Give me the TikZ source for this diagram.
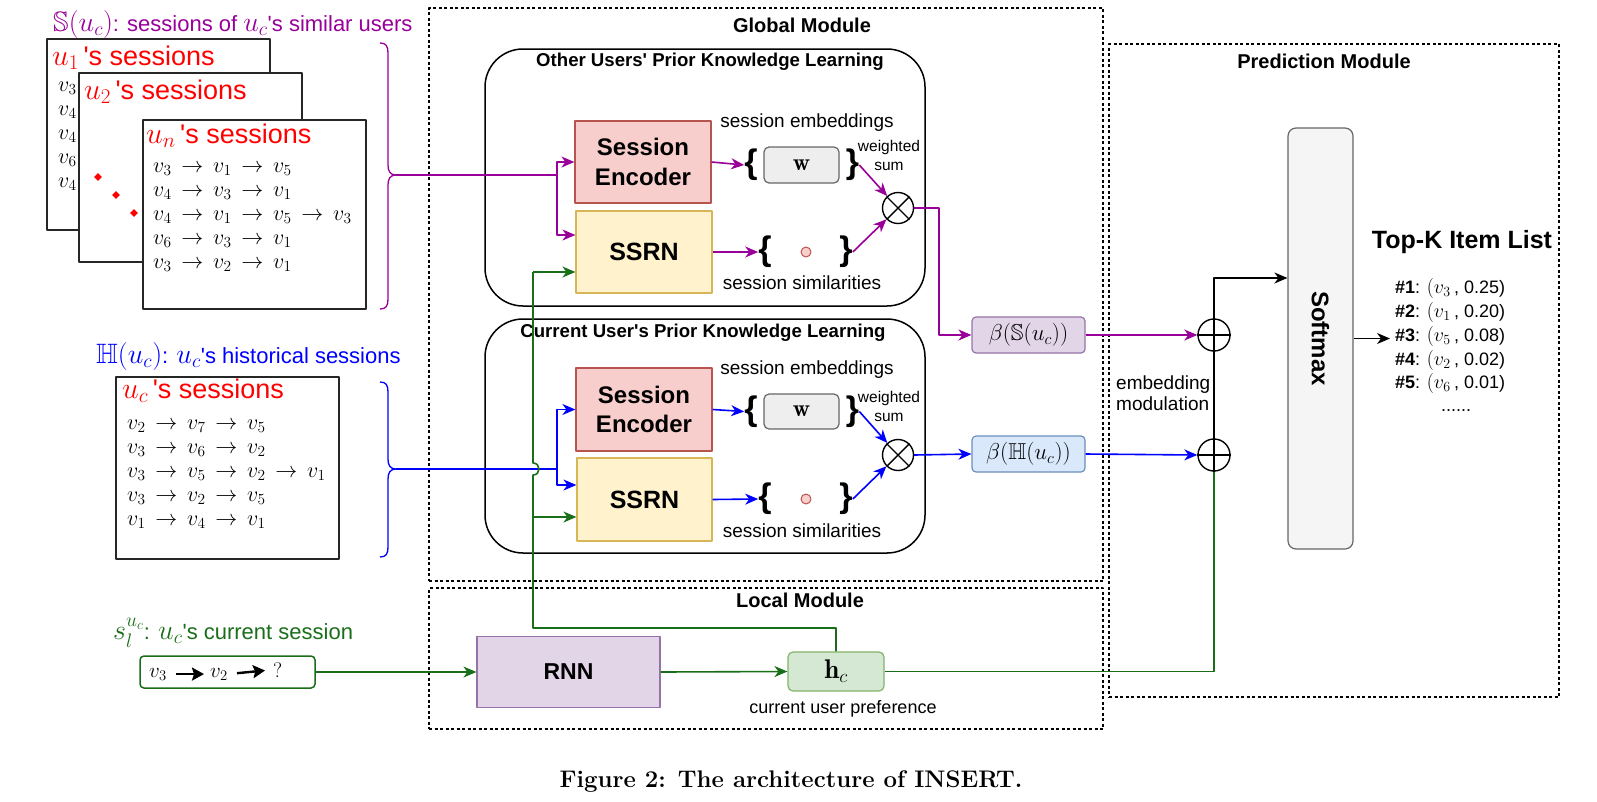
\RequirePackage{fix-cm}
\documentclass[tikz,border=0pt]{standalone}
\usepackage{amsmath,amssymb}
\usepackage{fontspec}
\setsansfont{Liberation Sans}
\usetikzlibrary{arrows.meta}
\definecolor{pur}{RGB}{153,0,153}
\definecolor{blu}{RGB}{0,0,255}
\definecolor{grn}{RGB}{25,110,25}
\definecolor{redt}{RGB}{255,0,0}
\definecolor{sefill}{HTML}{F8CECC}
\definecolor{sedraw}{HTML}{B85450}
\definecolor{ssfill}{HTML}{FFF2CC}
\definecolor{ssdraw}{HTML}{D6B656}
\definecolor{rnnfill}{HTML}{E1D5E7}
\definecolor{rnndraw}{HTML}{9673A6}
\definecolor{hfill}{HTML}{D5E8D4}
\definecolor{hdraw}{HTML}{82B366}
\definecolor{bhfill}{HTML}{DAE8FC}
\definecolor{bhdraw}{HTML}{6C8EBF}
\definecolor{gfill}{HTML}{F5F5F5}
\definecolor{wfill}{HTML}{EEEEEE}
\definecolor{gdraw}{HTML}{666666}
\newcommand{\bmth}[1]{{\fontsize{28}{28}\selectfont$#1$}}
\newcommand{\rmth}[1]{{\fontsize{30}{30}\selectfont$#1$}}
\newcommand{\imth}[1]{{\fontsize{20}{20}\selectfont$#1$}}
\newcommand{\sra}{\,\rightarrow\,}
\newcommand{\aps}{\textquotesingle}
\begin{document}
\begin{tikzpicture}[x=1pt,y=-1pt,line join=round,
  tip/.style={-{Stealth[length=13pt,width=11pt,inset=4pt]}},
  pl/.style={draw=pur,line width=1.6pt},
  bl/.style={draw=blu,line width=1.6pt},
  gl/.style={draw=grn,line width=1.6pt},
  kl/.style={draw=black,line width=1.5pt},
  modbox/.style={draw=black,dash pattern=on 3pt off 2.5pt,line width=1.2pt,inner sep=0},
  subbox/.style={draw=black,rounded corners=38pt,line width=1.5pt,inner sep=0},
  sessbox/.style={draw=black!85,fill=white,line width=2pt,inner sep=0},
  mtitle/.style={font=\sffamily\bfseries\fontsize{20}{20}\selectfont,inner sep=0},
  stitle/.style={font=\sffamily\bfseries\fontsize{18.6}{18.6}\selectfont,inner sep=0},
  sebox/.style={draw=sedraw,fill=sefill,line width=1.2pt,align=center,
    font=\sffamily\bfseries\fontsize{24}{29.5}\selectfont,inner sep=0},
  ssbox/.style={draw=ssdraw,fill=ssfill,line width=1.2pt,
    font=\sffamily\bfseries\fontsize{25}{25}\selectfont,inner sep=0},
  wbox/.style={draw=gdraw,fill=wfill,rounded corners=5pt,line width=1.2pt,
    font=\fontsize{24}{24}\selectfont,inner sep=0},
  brc/.style={font=\sffamily\bfseries\fontsize{34}{34}\selectfont,inner sep=0},
  simdot/.style={circle,draw=sedraw,fill=sefill,minimum size=10pt,inner sep=0,line width=1pt},
  opnode/.style={circle,draw=black,line width=1.4pt,minimum size=31pt,inner sep=0},
  lbl/.style={font=\sffamily\fontsize{19}{19}\selectfont,inner sep=0},
  wsum/.style={font=\sffamily\fontsize{15.5}{19}\selectfont,inner sep=0,align=center},
  row/.style={anchor=base west,inner sep=0,font=\fontsize{22}{22}\selectfont},
  rtitle/.style={anchor=base west,inner sep=0,text=redt,font=\sffamily\fontsize{27}{27}\selectfont},
  ctitle/.style={anchor=base west,inner sep=0,font=\sffamily\fontsize{22}{22}\selectfont},
  betabox/.style={rounded corners=4pt,line width=1.2pt,inner sep=0,font=\fontsize{23}{23}\selectfont,
    minimum width=113pt,minimum height=36pt},
  item/.style={anchor=base west,inner sep=0,font=\sffamily\fontsize{18}{18}\selectfont},
  dmd/.style={fill=redt,minimum size=5.5pt,inner sep=0,rotate=45},
  cstok/.style={anchor=base west,inner sep=0,font=\fontsize{21}{21}\selectfont},
  fat/.style={line width=2.4pt,-{Stealth[length=12pt,width=13pt,inset=2pt]}}
]
\useasboundingbox (0,0) rectangle (1597,801);

% ---------- module frames ----------
\node[modbox,minimum width=674pt,minimum height=573pt] (glob) at (766,294.5) {};
\node[modbox,minimum width=674pt,minimum height=141pt] (loc) at (766,658.5) {};
\node[modbox,minimum width=450pt,minimum height=653pt] (pred) at (1334,370.5) {};
\node[mtitle] (tglob) at (802,25) {Global Module};
\node[mtitle] (tloc) at (800,600) {Local Module};
\node[mtitle] (tpred) at (1324,61) {Prediction Module};

\node[subbox,minimum width=440pt,minimum height=257pt] (oth) at (705,177.5) {};
\node[subbox,minimum width=440pt,minimum height=234pt] (cur) at (705,436) {};
\node[stitle] (toth) at (710,62) {Other Users\aps\ Prior Knowledge Learning};
\node[stitle] (tcur) at (703,333) {Current User\aps s Prior Knowledge Learning};

% ---------- left: similar users' sessions ----------
\node[ctitle,text=pur] (tS) at (53,31) {\bmth{\mathbb{S}(u_c)}: sessions of \bmth{u_c}\aps s similar users};
\node[sessbox,minimum width=223pt,minimum height=191pt] (u1) at (158.5,134.5) {};
\node[rtitle] (u1t) at (52,65) {\rmth{u_1}\,\aps s sessions};
\node[row] (u1a) at (58,91) {$v_3$};
\node[row] (u1b) at (58,115) {$v_4$};
\node[row] (u1c) at (58,139) {$v_4$};
\node[row] (u1d) at (58,163) {$v_6$};
\node[row] (u1e) at (58,187) {$v_4$};
\node[sessbox,minimum width=223pt,minimum height=189pt] (u2) at (190.5,167.5) {};
\node[rtitle] (u2t) at (84,99) {\rmth{u_2}\,\aps s sessions};
\node[dmd] (dm1) at (98,177) {};
\node[dmd] (dm2) at (116,195) {};
\node[dmd] (dm3) at (134,213) {};
\node[sessbox,minimum width=223pt,minimum height=189pt] (un) at (254.5,214.5) {};
\node[rtitle] (unt) at (146,143) {\rmth{u_n}\,\aps s sessions};
\node[row] (una) at (153,172) {$v_3\sra v_1\sra v_5$};
\node[row] (unb) at (153,196) {$v_4\sra v_3\sra v_1$};
\node[row] (unc) at (153,220) {$v_4\sra v_1\sra v_5\sra v_3$};
\node[row] (und) at (153,244) {$v_6\sra v_3\sra v_1$};
\node[row] (une) at (153,268) {$v_3\sra v_2\sra v_1$};

\coordinate (bt1) at (396,175);
\draw[pl,line width=1.3pt] (380,43) .. controls (386,43) and (388,46) .. (388,53) -- (388,165)
  .. controls (388,171) and (390,175) .. (bt1) .. controls (390,175) and (388,179) .. (388,185)
  -- (388,299) .. controls (388,306) and (386,309) .. (380,309);

% ---------- left: historical sessions ----------
\node[ctitle,text=blu] (tH) at (96,363) {\bmth{\mathbb{H}(u_c)}: \bmth{u_c}\aps s historical sessions};
\node[sessbox,minimum width=223pt,minimum height=182pt] (uc) at (227.5,468) {};
\node[rtitle] (uct) at (122,398) {\rmth{u_c}\,\aps s sessions};
\node[row] (uca) at (127,429) {$v_2\sra v_7\sra v_5$};
\node[row] (ucb) at (127,453) {$v_3\sra v_6\sra v_2$};
\node[row] (ucc) at (127,477) {$v_3\sra v_5\sra v_2\sra v_1$};
\node[row] (ucd) at (127,501) {$v_3\sra v_2\sra v_5$};
\node[row] (uce) at (127,525) {$v_1\sra v_4\sra v_1$};

\coordinate (bt2) at (396,469);
\draw[bl,line width=1.3pt] (380,382) .. controls (386,382) and (388,385) .. (388,392) -- (388,459)
  .. controls (388,465) and (390,469) .. (bt2) .. controls (390,469) and (388,473) .. (388,479)
  -- (388,547) .. controls (388,554) and (386,557) .. (380,557);

% ---------- left: current session ----------
\node[ctitle,text=grn] (tC) at (113,639) {\bmth{s_l^{u_c}}: \bmth{u_c}\aps s current session};
\node[draw=grn,rounded corners=4pt,line width=1.5pt,minimum width=175pt,minimum height=32pt,inner sep=0] (cs) at (227.5,672) {};
\node[cstok] (t1) at (149,677) {$v_3$};
\node[cstok] (t2) at (210,677) {$v_2$};
\node[cstok] (t3) at (273,677) {$?$};
\draw[fat,shorten <=9pt,shorten >=6pt] (t1.east) -- (t2.west);
\draw[fat,shorten <=9pt,shorten >=8pt] (t2.east) -- (t3.west);

% ---------- other users' block ----------
\node[sebox,minimum width=136pt,minimum height=82pt] (se1) at (643,162) {Session\\Encoder};
\node[ssbox,minimum width=136pt,minimum height=82pt] (ss1) at (644,252) {SSRN};
\node[lbl] (emb1) at (807,123) {session embeddings};
\node[brc] (lb1) at (751,165) {\{};
\node[wbox,minimum width=75pt,minimum height=36pt] (w1) at (801.5,165) {$\mathbf{w}$};
\node[brc] (rb1) at (852.5,165) {\}};
\node[wsum] (ws1) at (889,155) {weighted\\sum};
\node[opnode] (ot1) at (898,208) {};
\draw[line width=1.4pt] (ot1.north west) -- (ot1.south east) (ot1.north east) -- (ot1.south west);
\node[brc] (lb2) at (765,252) {\{};
\node[simdot] (d1) at (806,252) {};
\node[brc] (rb2) at (846,252) {\}};
\node[lbl] (sim1) at (802,283) {session similarities};

% ---------- current user's block ----------
\node[sebox,minimum width=136pt,minimum height=83pt] (se2) at (644,409.5) {Session\\Encoder};
\node[ssbox,minimum width=135pt,minimum height=83pt] (ss2) at (644.5,499.5) {SSRN};
\node[lbl] (emb2) at (807,370) {session embeddings};
\node[brc] (lb3) at (751,411.5) {\{};
\node[wbox,minimum width=75pt,minimum height=35pt] (w2) at (801.5,411.5) {$\mathbf{w}$};
\node[brc] (rb3) at (852.5,411.5) {\}};
\node[wsum] (ws2) at (889,406) {weighted\\sum};
\node[opnode] (ot2) at (898,455) {};
\draw[line width=1.4pt] (ot2.north west) -- (ot2.south east) (ot2.north east) -- (ot2.south west);
\node[brc] (lb4) at (765,499) {\{};
\node[simdot] (d2) at (806,499) {};
\node[brc] (rb4) at (846,499) {\}};
\node[lbl] (sim2) at (802,531) {session similarities};

% ---------- local module ----------
\node[draw=rnndraw,fill=rnnfill,line width=1.2pt,minimum width=183pt,minimum height=71pt,inner sep=0,
  font=\sffamily\bfseries\fontsize{23}{23}\selectfont] (rnn) at (568.5,672) {RNN};
\node[draw=hdraw,fill=hfill,rounded corners=5pt,line width=1.2pt,minimum width=96pt,minimum height=39pt,
  inner sep=0,font=\fontsize{27}{27}\selectfont] (hc) at (836,671.5) {$\mathbf{h}_c$};
\node[font=\sffamily\fontsize{18}{18}\selectfont,inner sep=0] (pref) at (843,709) {current user preference};

% ---------- beta boxes, prediction ----------
\node[betabox,draw=rnndraw,fill=rnnfill] (bS) at (1028.5,335) {$\beta(\mathbb{S}(u_c))$};
\node[betabox,draw=bhdraw,fill=bhfill] (bH) at (1028.5,454) {$\beta(\mathbb{H}(u_c))$};
\node[opnode,minimum size=32pt] (op1) at (1214,335) {};
\node[opnode,minimum size=32pt] (op2) at (1214,455) {};
\draw[line width=1.4pt] (op1.west) -- (op1.east) (op2.west) -- (op2.east)
  (op1.north) -- (op1.south) (op2.north) -- (op2.south);
\node[font=\sffamily\fontsize{19}{21}\selectfont,inner sep=0,align=left,anchor=west] (emod) at (1116,393.5) {embedding\\modulation};
\node[draw=gdraw,fill=gfill,rounded corners=8pt,line width=1.2pt,minimum width=65pt,minimum height=421pt,inner sep=0] (soft) at (1320.5,338.5) {};
\node[rotate=-90,font=\sffamily\bfseries\fontsize{24}{24}\selectfont,inner sep=0] (softt) at (soft.center) {Softmax};
\node[font=\sffamily\bfseries\fontsize{25}{25}\selectfont,inner sep=0] (topk) at (1462,242) {Top-K Item List};
\node[item] (i1) at (1395,293) {\textbf{\#1}: \imth{(v_3\,}, 0.25)};
\node[item] (i2) at (1395,317) {\textbf{\#2}: \imth{(v_1\,}, 0.20)};
\node[item] (i3) at (1395,341) {\textbf{\#3}: \imth{(v_5\,}, 0.08)};
\node[item] (i4) at (1395,365) {\textbf{\#4}: \imth{(v_2\,}, 0.02)};
\node[item] (i5) at (1395,388) {\textbf{\#5}: \imth{(v_6\,}, 0.01)};
\node[item,anchor=base] (i6) at (1456,411) {......};

% ---------- connectors ----------
\coordinate (j1) at (557,175);
\draw[pl] (bt1) -- (j1);
\draw[pl,tip] (j1) |- (se1.west);
\draw[pl,tip] (j1) |- ([yshift=17pt]ss1.west);
\draw[pl,tip] (se1.east) -- (lb1.west);
\draw[pl,tip] (ss1.east) -- (lb2.west);
\draw[pl,tip] (rb1.east) -- (ot1);
\draw[pl,tip] (rb2.east) -- (ot1);
\coordinate (k1) at (939,335);
\draw[pl,tip] (ot1.east) -| (k1) -- (bS.west);
\draw[pl,tip] (bS.east) -- (op1.west);

\coordinate (j2) at (557,469);
\draw[bl] (bt2) -- (j2);
\draw[bl,tip] (j2) |- (se2.west);
\draw[bl,tip] (j2) |- ([yshift=14.5pt]ss2.west);
\draw[bl,tip] (se2.east) -- (lb3.west);
\draw[bl,tip] (ss2.east) -- (lb4.west);
\draw[bl,tip] (rb3.east) -- (ot2);
\draw[bl,tip] (rb4.east) -- (ot2);
\draw[bl,tip] (ot2.east) -- (bH.west);
\draw[bl,tip] (bH.east) -- (op2.west);

\coordinate (g1) at (533,628);
\coordinate (g2) at (533,517);
\coordinate (g3) at (533,272);
\draw[gl] (hc.north) |- (g1) -- (533,475) .. controls (541,475) and (541,463) .. (533,463) -- (g3);
\draw[gl,tip] (g3) -- ([yshift=-20pt]ss1.west);
\draw[gl,tip] (g2) -- ([yshift=-17.5pt]ss2.west);
\draw[gl,tip] (cs.east) -- (rnn.west);
\draw[gl,tip] (rnn.east) -- (hc.west);
\draw[gl] (hc.east) -| (op2.south);

\draw[kl] (op2.north) -- (op1.south);
\draw[kl,tip] (op1.north) |- ([yshift=60.5pt]soft.west);
\coordinate (lst) at (1390,338.5);
\draw[kl,tip] (soft.east) -- (lst);

% ---------- caption ----------
\node[font=\rmfamily\bfseries\fontsize{24}{24}\selectfont,inner sep=0] (cap) at (791,781) {Figure 2: The architecture of INSERT.};
\end{tikzpicture}
\end{document}
